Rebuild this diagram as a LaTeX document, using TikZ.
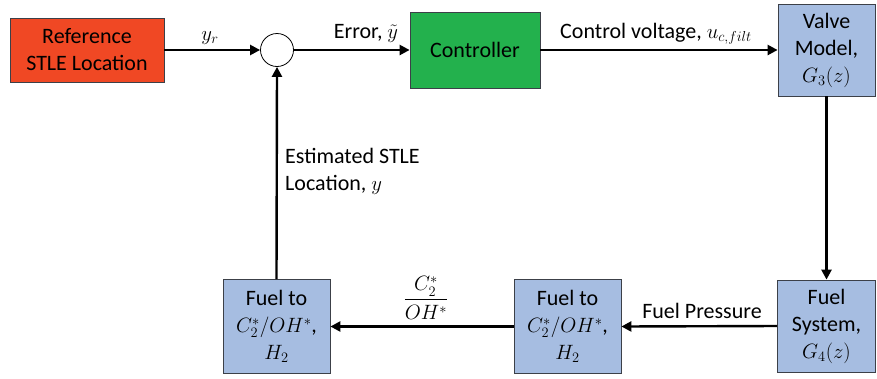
\documentclass[tikz,border=0pt]{standalone}
\usepackage{amsmath}
\usepackage{fontspec}
\setmainfont{Carlito}
\usetikzlibrary{arrows.meta}
\definecolor{refred}{RGB}{240,72,36}
\definecolor{ctrlgreen}{RGB}{35,177,77}
\definecolor{blkblue}{RGB}{166,189,225}
\definecolor{bordergray}{RGB}{60,64,72}
\begin{document}
\begin{tikzpicture}[x=1pt,y=-1pt,
  every node/.style={font=\fontsize{22}{27}\selectfont, inner sep=0pt},
  blk/.style={draw=bordergray, line width=0.8pt, align=center},
  conn/.style={line width=2.4pt, -{Triangle[length=10pt,width=10pt]}},
  lbl/.style={text=black}]
\useasboundingbox (0,0) rectangle (877,378);
\node[blk, fill=refred, minimum width=154pt, minimum height=64pt] (ref) at (87,50) {Reference\\STLE Location};
\node[draw, circle, minimum size=33pt, line width=0.8pt] (sum) at (277,50) {};
\node[blk, fill=ctrlgreen, minimum width=130pt, minimum height=76pt] (ctrl) at (475,50) {Controller};
\node[blk, fill=blkblue, minimum width=97pt, minimum height=92pt] (valve) at (826.5,50) {Valve\\Model,\\$G_3(z)$};
\node[blk, fill=blkblue, minimum width=98pt, minimum height=92pt] (fsys) at (826.5,326) {Fuel\\System,\\$G_4(z)$};
\node[blk, fill=blkblue, minimum width=107pt, minimum height=94pt] (mid) at (567.5,326.5) {Fuel to\\$C_2^*/OH^*$,\\$H_2$};
\node[blk, fill=blkblue, minimum width=107pt, minimum height=94pt] (left) at (276.5,326.5) {Fuel to\\$C_2^*/OH^*$,\\$H_2$};

\draw[conn] (ref.east) -- (sum.west);
\draw[conn] (sum.east) -- (ctrl.west);
\draw[conn] (ctrl.east) -- (valve.west);
\draw[conn] (valve.south) -- (fsys.north);
\draw[conn] (fsys.west) -- (mid.east);
\draw[conn] (mid.west) -- (left.east);
\draw[conn] (left.north) -- (sum.south);

\node[lbl, anchor=base] (lyr) at (210,40) {$y_r$};
\node[lbl, anchor=base] (lerr) at (366,38) {Error, $\tilde{y}$};
\node[lbl, anchor=base] (lcv) at (656,38) {Control voltage, $u_{c,filt}$};
\node[lbl, anchor=base] (lfp) at (702,318) {Fuel Pressure};
\node[lbl] (lfrac) at (426,298) {$\dfrac{C_2^*}{OH^*}$};
\node[lbl, anchor=north west, align=left] (lest) at (285,148) {Estimated STLE\\Location, $y$};
\end{tikzpicture}
\end{document}
